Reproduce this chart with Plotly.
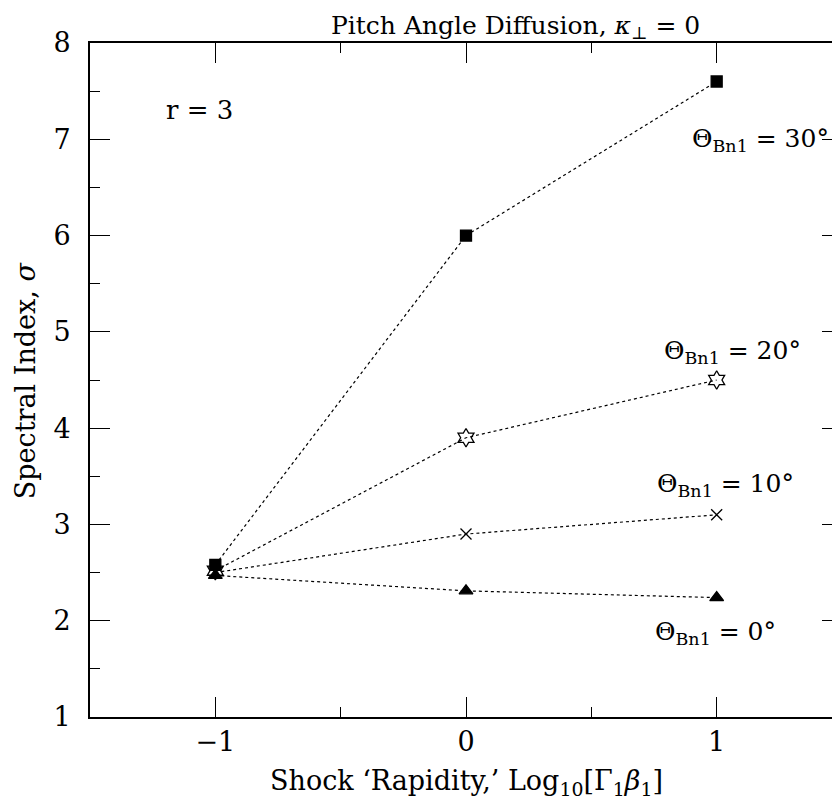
import plotly.graph_objects as go

x_vals = [-1, 0, 1]
theta_30 = [2.58, 6.0, 7.6]
theta_20 = [2.52, 3.9, 4.5]
theta_10 = [2.5, 2.9, 3.1]
theta_0 = [2.47, 2.31, 2.24]

series = [
    ("30°", theta_30, "square", 11),
    ("20°", theta_20, "hexagram-open", 14),
    ("10°", theta_10, "x-thin-open", 11),
    ("0°", theta_0, "triangle-up", 12),
]

FONT = "DejaVu Serif"

fig = go.Figure()
for name, ys, sym, sz in series:
    fig.add_trace(go.Scatter(
        x=x_vals, y=ys, mode="lines+markers", name=name,
        line=dict(color="black", width=1.2, dash="dot"),
        marker=dict(symbol=sym, size=sz, color="black",
                    line=dict(color="black", width=1.3)),
        showlegend=False,
    ))

axis_common = dict(
    showgrid=False, zeroline=False, showline=True, linecolor="black",
    linewidth=2, mirror="allticks", ticks="inside", ticklen=20,
    tickwidth=1.3, tickcolor="black",
    tickfont=dict(family=FONT, size=27, color="black"),
)

fig.update_xaxes(range=[-1.5, 1.5], tickvals=[-1, 0, 1],
                 ticktext=["−1", "0", "1"],
                 minor=dict(dtick=0.5, ticks="inside", ticklen=10,
                            tickwidth=1.3, tickcolor="black"),
                 **axis_common)
fig.update_yaxes(range=[1, 8], dtick=1, ticklabelstandoff=12,
                 minor=dict(dtick=0.5, ticks="inside", ticklen=10,
                            tickwidth=1.3, tickcolor="black"),
                 **axis_common)

ann_font = dict(family=FONT, size=25, color="black")
# positions given in screen pixels of the 840x804 view
annotations = [
    dict(text="Pitch Angle Diffusion, <i>κ</i><sub>⊥</sub> = 0", x=517, y=9,
         yanchor="top", font=dict(family=FONT, size=25, color="black")),
    dict(text="Shock ‘Rapidity,’ Log<sub>10</sub>[Γ<sub>1</sub><i>β</i><sub>1</sub>]",
         x=468, y=782, font=dict(family=FONT, size=27, color="black")),
    dict(text="Spectral Index, <i>σ</i>", x=25, y=380, textangle=-90,
         font=dict(family=FONT, size=27, color="black")),
    dict(text="r = 3", x=200, y=110, font=dict(family=FONT, size=26, color="black")),
    dict(text="Θ<sub>Bn1</sub> = 30°", x=762, y=140, font=ann_font),
    dict(text="Θ<sub>Bn1</sub> = 20°", x=734, y=352, font=ann_font),
    dict(text="Θ<sub>Bn1</sub> = 10°", x=727, y=485, font=ann_font),
    dict(text="Θ<sub>Bn1</sub> = 0°", x=717, y=633, font=ann_font),
]
# plot area in screen pixels (page body has an 8px margin)
pl, pr, pt, pb = 90, 844, 43, 717
for a in annotations:
    px, py = a.pop("x"), a.pop("y")
    ya = a.pop("yanchor", "middle")
    fig.add_annotation(x=(px - pl) / (pr - pl), y=(pb - py) / (pb - pt),
                       xref="paper", yref="paper", showarrow=False,
                       xanchor="center", yanchor=ya, **a)

W, H = 840, 796
fig.update_layout(
    width=W, height=H,
    margin=dict(l=pl - 8, r=W - (pr - 8), t=pt - 8, b=H - (pb - 8)),
    plot_bgcolor="white", paper_bgcolor="white",
)

fig.write_html("out.html")
